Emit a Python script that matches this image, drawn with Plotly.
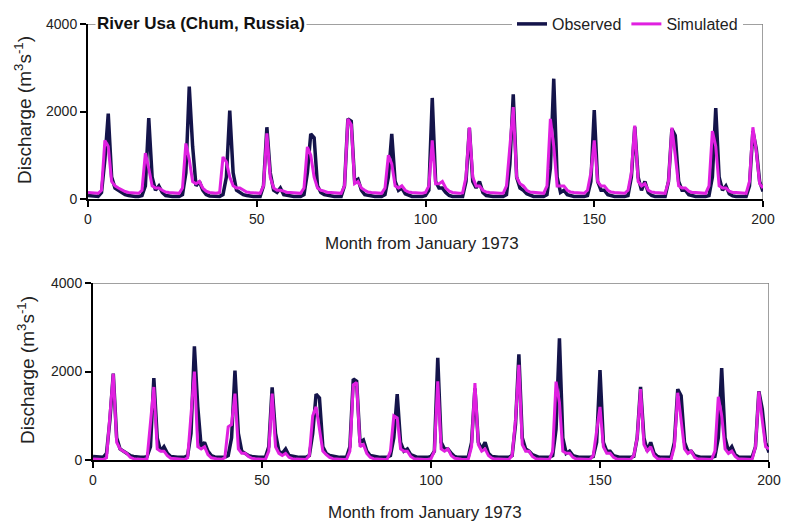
import plotly.graph_objects as go

months = list(range(201))

observed = [
    80, 70, 60, 60, 150, 900, 1950, 500, 250, 200, 150, 100,
    80, 60, 60, 60, 80, 300, 1850, 500, 200, 300, 150, 80,
    60, 60, 60, 60, 100, 600, 2570, 1200, 300, 400, 200, 100,
    70, 60, 60, 60, 100, 500, 2020, 600, 200, 150, 100, 80,
    60, 60, 60, 60, 300, 1640, 600, 200, 150, 250, 100, 80,
    60, 60, 60, 60, 100, 600, 1490, 1400, 300, 150, 100, 80,
    60, 60, 60, 60, 300, 1830, 1780, 400, 450, 200, 100, 80,
    60, 60, 60, 60, 100, 500, 1490, 400, 200, 250, 120, 80,
    60, 60, 60, 60, 80, 200, 2310, 400, 250, 250, 150, 80,
    60, 60, 60, 60, 400, 1620, 400, 250, 400, 150, 80, 60,
    60, 60, 60, 60, 100, 800, 2390, 500, 250, 200, 120, 80,
    60, 60, 60, 60, 100, 700, 2750, 500, 150, 200, 100, 70,
    60, 60, 60, 60, 80, 400, 2030, 400, 200, 200, 100, 70,
    60, 60, 60, 60, 80, 500, 1650, 500, 200, 400, 150, 80,
    60, 60, 60, 60, 400, 1600, 1450, 400, 200, 200, 100, 70,
    60, 60, 60, 60, 80, 500, 2080, 500, 200, 300, 120, 70,
    60, 60, 60, 60, 300, 1550, 1150, 400, 170,
]

simulated_top = [
    150, 150, 140, 130, 200, 1340, 1200, 400, 300, 250, 200, 170,
    150, 140, 130, 130, 200, 1050, 700, 300, 250, 250, 200, 160,
    150, 140, 130, 130, 250, 1270, 900, 400, 350, 400, 250, 180,
    150, 140, 130, 150, 960, 850, 500, 300, 250, 250, 200, 160,
    150, 140, 130, 130, 300, 1500, 500, 250, 200, 200, 180, 150,
    150, 140, 130, 130, 250, 1190, 1000, 500, 250, 200, 180, 150,
    150, 140, 130, 130, 300, 1830, 1700, 350, 400, 250, 200, 160,
    150, 140, 130, 130, 250, 1000, 800, 300, 250, 300, 200, 160,
    150, 140, 130, 130, 150, 300, 1340, 350, 350, 400, 250, 180,
    150, 140, 130, 140, 500, 1640, 500, 300, 300, 200, 160, 150,
    150, 140, 130, 130, 300, 1200, 2100, 500, 350, 300, 200, 160,
    150, 140, 130, 130, 300, 1830, 1200, 300, 300, 300, 200, 160,
    150, 140, 130, 130, 200, 600, 1340, 400, 300, 300, 200, 160,
    150, 140, 130, 130, 200, 600, 1680, 400, 300, 350, 200, 160,
    150, 140, 130, 130, 400, 1630, 1000, 300, 250, 250, 180, 150,
    150, 140, 130, 130, 300, 1550, 1200, 300, 250, 250, 180, 150,
    150, 140, 130, 130, 400, 1640, 1100, 350, 250,
]

simulated_bottom = [
    20, 15, 10, 10, 50, 1100, 1950, 400, 250, 200, 150, 60,
    30, 20, 15, 10, 30, 800, 1650, 250, 200, 200, 100, 40,
    30, 20, 15, 10, 50, 1000, 2000, 300, 250, 300, 120, 50,
    30, 20, 15, 50, 750, 800, 1500, 250, 150, 150, 80, 40,
    30, 20, 15, 10, 200, 1500, 300, 150, 100, 150, 60, 30,
    20, 15, 10, 10, 100, 1000, 1200, 700, 200, 120, 60, 30,
    20, 15, 10, 10, 200, 1700, 1750, 300, 350, 150, 60, 30,
    20, 15, 10, 10, 200, 1000, 950, 250, 200, 200, 80, 30,
    20, 15, 10, 10, 30, 200, 1780, 250, 200, 250, 100, 40,
    20, 15, 10, 10, 300, 1740, 350, 200, 250, 100, 40, 20,
    20, 15, 10, 10, 100, 900, 2150, 350, 200, 200, 80, 30,
    20, 15, 10, 10, 200, 1770, 1300, 200, 150, 150, 60, 20,
    20, 15, 10, 10, 100, 700, 1200, 300, 150, 150, 60, 20,
    20, 15, 10, 10, 100, 500, 1600, 350, 200, 300, 100, 30,
    20, 15, 10, 10, 300, 1520, 900, 250, 150, 200, 60, 20,
    20, 15, 10, 10, 200, 1430, 1000, 250, 150, 200, 80, 20,
    20, 15, 10, 10, 300, 1545, 900, 300, 250,
]

x_ticks = [0, 50, 100, 150, 200]
y_ticks = [0, 2000, 4000]
series_names = ["Observed", "Simulated"]
title_text = "River Usa (Chum, Russia)"
x_title = "Month from January 1973"
y_title = "Discharge (m<sup>3</sup>s<sup>-1</sup>)"

OBS_COLOR = "#14144a"
SIM_COLOR = "#e020e0"
W, H = 785, 521
FONT = "Liberation Sans, Arial, sans-serif"


def px_x(p):
    return p / W


def px_y(p):
    return 1 - p / H


fig = go.Figure()
fig.add_trace(go.Scatter(x=months, y=observed, mode="lines", name=series_names[0],
                         line=dict(color=OBS_COLOR, width=3.5), xaxis="x", yaxis="y"))
fig.add_trace(go.Scatter(x=months, y=simulated_top, mode="lines", name=series_names[1],
                         line=dict(color=SIM_COLOR, width=3), xaxis="x", yaxis="y"))
fig.add_trace(go.Scatter(x=months, y=observed, mode="lines", showlegend=False,
                         line=dict(color=OBS_COLOR, width=3.5), xaxis="x2", yaxis="y2"))
fig.add_trace(go.Scatter(x=months, y=simulated_bottom, mode="lines", showlegend=False,
                         line=dict(color=SIM_COLOR, width=3), xaxis="x2", yaxis="y2"))

axis_common = dict(showgrid=False, zeroline=False, showline=True, linecolor="black",
                   linewidth=2, ticks="outside", ticklen=6, tickcolor="black",
                   tickwidth=1.5, automargin=False,
                   tickfont=dict(family=FONT, size=14, color="#222"))

fig.update_layout(
    width=W, height=H,
    margin=dict(l=0, r=0, t=0, b=0, autoexpand=False),
    paper_bgcolor="white", plot_bgcolor="white",
    font=dict(family=FONT, color="#222"),
    xaxis=dict(domain=[px_x(88), px_x(763)], range=[0, 200], tickvals=x_ticks,
               anchor="y", **axis_common),
    yaxis=dict(domain=[px_y(199), px_y(24)], range=[0, 4000], tickvals=y_ticks,
               anchor="x", **axis_common),
    xaxis2=dict(domain=[px_x(93), px_x(769)], range=[0, 200], tickvals=x_ticks,
                anchor="y2", **axis_common),
    yaxis2=dict(domain=[px_y(460), px_y(283)], range=[0, 4000], tickvals=y_ticks,
                anchor="x2", **axis_common),
    showlegend=True,
    legend=dict(orientation="h", x=px_x(512), y=px_y(24), xanchor="left", yanchor="middle",
                bgcolor="white", font=dict(family=FONT, size=16, color="#222"),
                tracegroupgap=0),
)

frame_color = "#808080"
# top and right frame lines of both panels
for xr, yr in (("x", "y"), ("x2", "y2")):
    fig.add_shape(type="line", xref=xr, yref=yr, x0=0, x1=200, y0=4000, y1=4000,
                  line=dict(color=frame_color, width=1.5), layer="below")
    fig.add_shape(type="line", xref=xr, yref=yr, x0=200, x1=200, y0=0, y1=4000,
                  line=dict(color=frame_color, width=1.5), layer="below")

fig.add_annotation(text="<b>" + title_text + "</b>", xref="paper", yref="paper",
                   x=px_x(95), y=px_y(24), xanchor="left", yanchor="middle", showarrow=False,
                   bgcolor="white", font=dict(family=FONT, size=17, color="#111"))

for cx, cy in ((422, 243), (425, 512)):
    fig.add_annotation(text=x_title, xref="paper", yref="paper", x=px_x(cx), y=px_y(cy),
                       xanchor="center", yanchor="middle", showarrow=False,
                       font=dict(family=FONT, size=17, color="#222"))

for cx, cy in ((23, 110), (26, 370)):
    fig.add_annotation(text=y_title, xref="paper", yref="paper", x=px_x(cx), y=px_y(cy),
                       xanchor="center", yanchor="middle", showarrow=False, textangle=-90,
                       font=dict(family=FONT, size=19, color="#222"))

fig.write_html("out.html", config={"displayModeBar": False},
               post_script="document.body.style.margin='0';document.body.style.overflow='hidden';")
